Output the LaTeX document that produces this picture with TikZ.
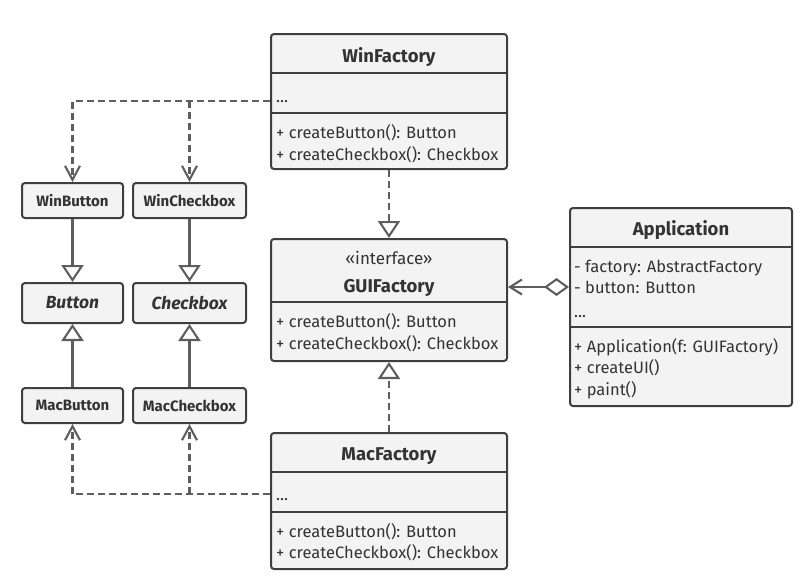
\documentclass[tikz,border=0pt]{standalone}
\usepackage{fontspec}
\setmainfont{Fira Sans}
\usetikzlibrary{arrows.meta}

\definecolor{boxfill}{HTML}{F3F3F3}
\definecolor{boxline}{HTML}{3F3F3F}
\definecolor{linegray}{HTML}{5E5E5E}
\definecolor{ink}{HTML}{333333}

\tikzset{
  classbox/.style={draw=boxline, fill=boxfill, line width=2pt, rounded corners=3pt, inner sep=0pt},
  divider/.style={draw=boxline, line width=2pt},
  hdr/.style={anchor=base, inner sep=0pt, font=\fontsize{18.5}{22}\selectfont\bfseries, text=ink},
  member/.style={anchor=base west, inner sep=0pt, font=\fontsize{16.5}{20}\selectfont, text=ink},
  leafbox/.style={classbox, font=\fontsize{15}{18}\selectfont\bfseries, text=ink},
  wire/.style={draw=linegray, line width=2.1pt},
  dep/.style={wire, dash pattern=on 7pt off 4pt, -{Straight Barb[length=14pt,width=15pt]}},
  real/.style={wire, dash pattern=on 7pt off 4pt, -{Triangle[open,length=17pt,width=22pt]}},
  inherit/.style={wire, -{Triangle[open,length=17pt,width=22pt]}},
}

\begin{document}
\begin{tikzpicture}[x=1pt, y=-1pt]
  \useasboundingbox (0,0) rectangle (810,579);

  % ---- Products ----
  \node[leafbox, minimum width=101pt, minimum height=35pt] (winbtn) at (72.5,200.5) {WinButton};
  \node[leafbox, minimum width=113pt, minimum height=35pt] (wincb) at (189.5,200.5) {WinCheckbox};
  \node[leafbox, minimum width=101pt, minimum height=40pt, font=\fontsize{17.5}{21}\selectfont\bfseries\itshape] (btn) at (72.5,303) {Button};
  \node[leafbox, minimum width=113pt, minimum height=40pt, font=\fontsize{17.5}{21}\selectfont\bfseries\itshape] (cb) at (189.5,303) {Checkbox};
  \node[leafbox, minimum width=101pt, minimum height=35pt] (macbtn) at (72.5,405.5) {MacButton};
  \node[leafbox, minimum width=113pt, minimum height=35pt] (maccb) at (189.5,405.5) {MacCheckbox};

  % ---- WinFactory ----
  \node[classbox, minimum width=236pt, minimum height=135pt] (winf) at (389,101.5) {};
  \draw[divider] (winf.west |- 0,73) -- (winf.east |- 0,73);
  \draw[divider] (winf.west |- 0,113) -- (winf.east |- 0,113);
  \node[hdr] at (389,62) {WinFactory};
  \node[member] at (276,102) {...};
  \node[member] at (276,138) {+ createButton(): Button};
  \node[member] at (276,160) {+ createCheckbox(): Checkbox};

  % ---- GUIFactory ----
  \node[classbox, minimum width=236pt, minimum height=122pt] (guif) at (389,300) {};
  \draw[divider] (guif.west |- 0,302) -- (guif.east |- 0,302);
  \node[hdr, font=\fontsize{17}{20}\selectfont] at (389,264) {«interface»};
  \node[hdr] at (389,292) {GUIFactory};
  \node[member] at (276,327) {+ createButton(): Button};
  \node[member] at (276,349) {+ createCheckbox(): Checkbox};

  % ---- MacFactory ----
  \node[classbox, minimum width=236pt, minimum height=136pt] (macf) at (389,501) {};
  \draw[divider] (macf.west |- 0,472) -- (macf.east |- 0,472);
  \draw[divider] (macf.west |- 0,512) -- (macf.east |- 0,512);
  \node[hdr] at (389,460) {MacFactory};
  \node[member] at (276,500) {...};
  \node[member] at (276,537) {+ createButton(): Button};
  \node[member] at (276,558) {+ createCheckbox(): Checkbox};

  % ---- Application ----
  \node[classbox, minimum width=222pt, minimum height=198pt] (app) at (681,307) {};
  \draw[divider] (app.west |- 0,247) -- (app.east |- 0,247);
  \draw[divider] (app.west |- 0,327) -- (app.east |- 0,327);
  \node[hdr] at (681,235) {Application};
  \node[member] at (574,272) {- factory: AbstractFactory};
  \node[member] at (574,293) {- button: Button};
  \node[member] at (574,317) {...};
  \node[member] at (574,352) {+ Application(f: GUIFactory)};
  \node[member] at (574,373.5) {+ createUI()};
  \node[member] at (574,395) {+ paint()};

  % ---- Inheritance ----
  \draw[inherit] (winbtn) -- (btn);
  \draw[inherit] (wincb) -- (cb);
  \draw[inherit] (macbtn) -- (btn);
  \draw[inherit] (maccb) -- (cb);
  \draw[real] (winf) -- (guif);
  \draw[real] (macf) -- (guif);

  % ---- Dependencies ----
  \draw[dep] (winf.west |- 0,101) -| (winbtn);
  \draw[dep] (wincb.north |- 0,101) -- (wincb);
  \draw[dep] (macf.west |- 0,494) -| (macbtn);
  \draw[dep] (maccb.south |- 0,494) -- (maccb);

  % ---- Aggregation ----
  \draw[wire, {Diamond[open,length=25pt,width=18pt]}-{Straight Barb[length=12pt,width=15pt]}]
    (app.west |- 0,287) -- (guif.east |- 0,287);
\end{tikzpicture}
\end{document}
